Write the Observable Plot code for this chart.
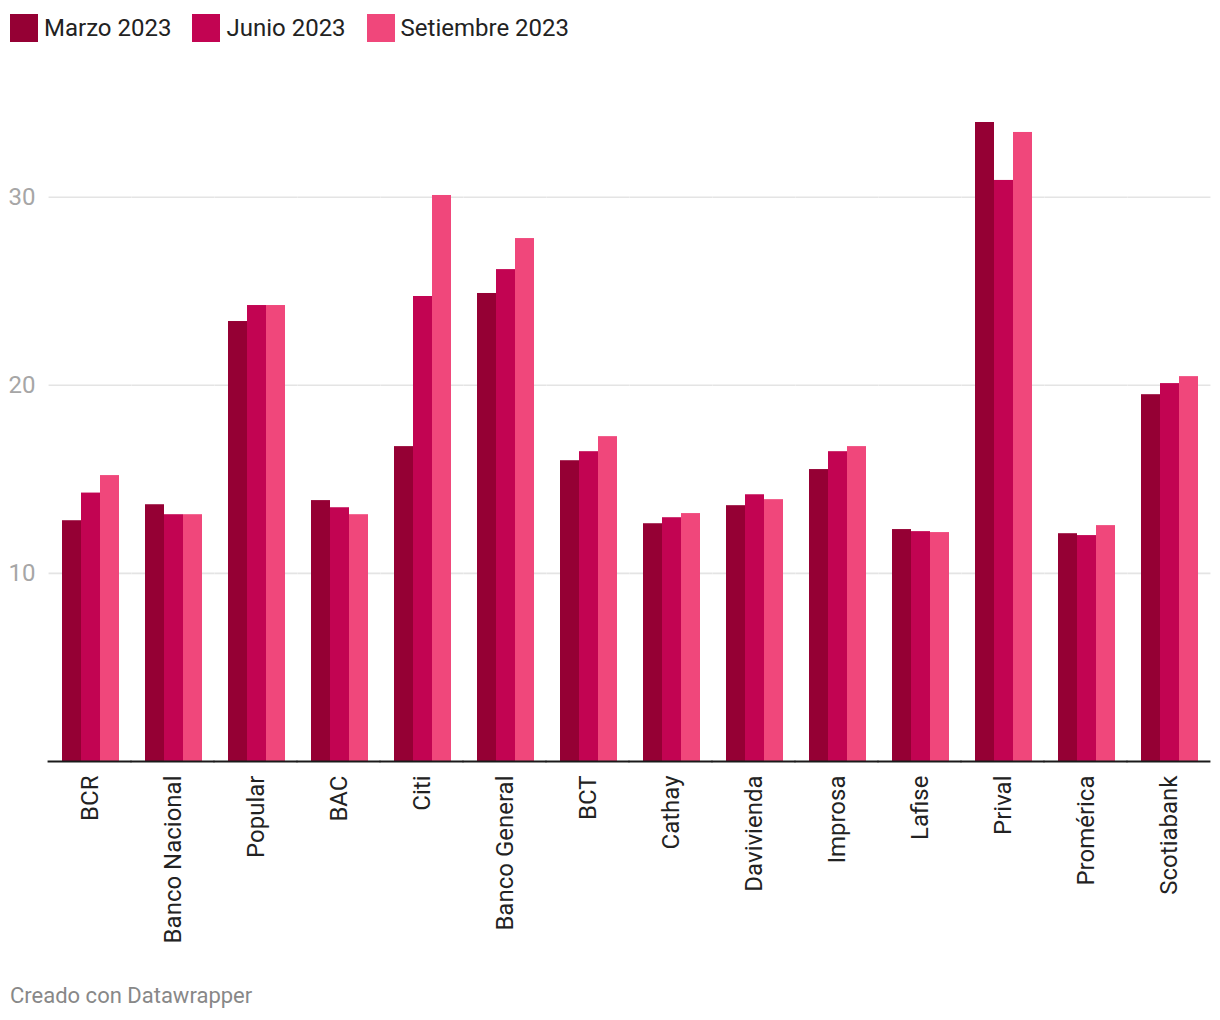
<!DOCTYPE html>
<html>
<head>
<meta charset="utf-8">
<script src="https://cdn.jsdelivr.net/npm/d3@7"></script>
<script src="https://cdn.jsdelivr.net/npm/@observablehq/plot@0.6"></script>
<style>
  html, body { margin: 0; padding: 0; background: #fff; }
  body { width: 1220px; height: 1020px; position: relative; font-family: Roboto, "Noto Sans", sans-serif; overflow: hidden; }
  #legend { position: absolute; left: 10px; top: 14px; display: flex; align-items: center; font-size: 24px; color: #222; }
  .item { display: flex; align-items: center; margin-right: 21px; }
  .sw { width: 28px; height: 28px; margin-right: 6px; }
  #chart { position: absolute; left: 0; top: 0; }
  #footer { position: absolute; left: 10px; top: 983px; font-size: 22px; color: #888; }
</style>
</head>
<body>
<div id="legend"></div>
<div id="chart"></div>
<div id="footer">Creado con Datawrapper</div>
<script>
const banks = ["BCR", "Banco Nacional", "Popular", "BAC", "Citi", "Banco General", "BCT", "Cathay", "Davivienda", "Improsa", "Lafise", "Prival", "Promérica", "Scotiabank"];
const seriesNames = ["Marzo 2023", "Junio 2023", "Setiembre 2023"];
const marzo =     [12.80, 13.65, 23.39, 13.87, 16.74, 24.88, 15.99, 12.64, 13.60, 15.52, 12.33, 33.97, 12.11, 19.50];
const junio =     [14.27, 13.12, 24.24, 13.49, 24.72, 26.15, 16.47, 12.96, 14.18, 16.47, 12.22, 30.89, 12.01, 20.09];
const setiembre = [15.20, 13.12, 24.24, 13.12, 30.09, 27.80, 17.27, 13.18, 13.92, 16.74, 12.17, 33.44, 12.54, 20.46];
const yTicks = [10, 20, 30];
const colors = ["#950034", "#c20452", "#f0477b"];

const seriesValues = [marzo, junio, setiembre];
const data = [];
banks.forEach((b, i) => {
  seriesNames.forEach((s, j) => data.push({bank: b, series: s, value: seriesValues[j][i]}));
});

// legend
const legend = document.getElementById("legend");
seriesNames.forEach((s, j) => {
  const it = document.createElement("div");
  it.className = "item";
  it.innerHTML = `<div class="sw" style="background:${colors[j]}"></div><span>${s}</span>`;
  legend.appendChild(it);
});

const width = 1220, height = 960;
const marginLeft = 42, marginRight = 3, marginTop = 122, marginBottom = 199;
const padInner = 0.3, padOuter = 0.15;
const half = 12.44;

const chart = Plot.plot({
  width, height, marginLeft, marginRight, marginTop, marginBottom,
  style: {fontFamily: "Roboto, sans-serif", fontSize: "24px", color: "#222", background: "transparent"},
  fx: {domain: banks, paddingInner: padInner, paddingOuter: padOuter, label: null, tickRotate: -90, tickSize: 0, tickPadding: 14, axis: "bottom"},
  x: {domain: seriesNames, padding: 0, axis: null},
  y: {domain: [0, 33.97], ticks: yTicks, tickSize: 0, tickPadding: 26, label: null, axis: "left", tickFormat: d => d},
  color: {domain: seriesNames, range: colors},
  facet: {data, x: "bank"},
  marks: [
    Plot.ruleY(yTicks, {stroke: "#e4e4e4", strokeWidth: 1.6, insetLeft: -half, insetRight: -half}),
    Plot.barY(data, {x: "series", y: "value", fill: "series"}),
    Plot.ruleY([0], {stroke: "#1a1a1a", strokeWidth: 2, insetLeft: -half - 1, insetRight: -half})
  ]
});
document.getElementById("chart").appendChild(chart);

// style y-axis labels gray
d3.select(chart).selectAll('g[aria-label^="y-axis"] text').attr("fill", "#a6a6a6");
d3.select(chart).selectAll('g[aria-label^="fx-axis"] text').attr("fill", "#222");
</script>
</body>
</html>
